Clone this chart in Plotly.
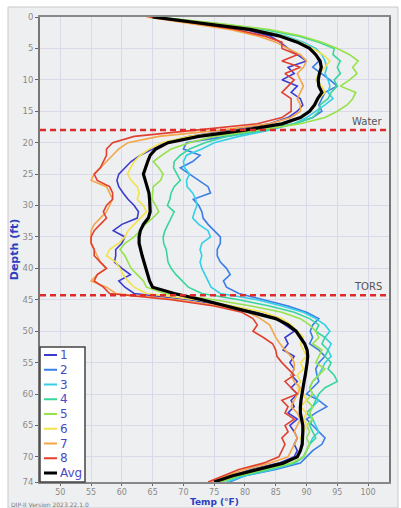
import plotly.graph_objects as go

depth = list(range(0, 75))

s1 = [65, 73, 80, 84, 85.7, 87, 88.5, 90, 87, 88, 86, 88.5, 87.5, 89, 89.4,
      88.5, 87, 84, 78, 71, 67, 65, 63, 61.5, 60.5, 59.5, 59.2, 59.5, 60.2, 61,
      62, 62.7, 62.5, 60, 58.6, 60.5, 60, 59, 59, 58.8, 60, 61.4, 59.5, 60.5, 62,
      71, 77, 82, 85.2, 86.5, 88, 86.5, 87, 86.2, 88, 87.3, 88, 87.5, 88.5, 87.5,
      88.5, 87.5, 88, 87, 88.5, 87.3, 88, 88.5, 88, 88.5, 88, 85.5, 81, 78, 75]
s2 = [65, 74, 81, 86, 89, 90.5, 91.5, 92, 91, 92.5, 93.8, 95, 93, 92.5, 92,
      92.5, 91, 88, 83, 77, 70.5, 70, 72.7, 71.5, 69.5, 71, 72.5, 74, 74.4, 71.6,
      72.5, 73, 73.2, 74, 75, 76, 76, 75.5, 75.5, 76, 77, 77.6, 76.5, 77, 79,
      83, 87, 90, 92, 91, 90.6, 91, 90.5, 92, 93, 92, 91.5, 91.7, 92, 91,
      90, 92, 93.3, 91.5, 90, 91, 92, 93, 92.5, 91, 90, 89, 85, 80, 77.5]
s3 = [65, 74, 81.5, 86.5, 89.5, 91.5, 92.5, 93, 93.3, 93, 93.5, 93.8, 93.5, 94.3, 93,
      91.5, 90, 88, 84, 79, 75, 73, 70.5, 70, 70.2, 71, 70.5, 70.6, 71.5, 72,
      72.2, 71.8, 71.5, 72.5, 74, 74.4, 73, 72.7, 73, 72.7, 73, 73.5, 74, 74.5, 76,
      82, 86, 89.5, 91.5, 93, 93.8, 93, 94, 93.5, 94, 93, 92.5, 92, 91, 90.5,
      91, 92, 91, 90.5, 91, 91.5, 92, 91, 90.5, 90, 89.5, 88, 84.5, 80, 77]
s4 = [65.5, 75, 83, 88.5, 92, 94.5, 94.3, 95.5, 95, 95.5, 94.5, 95, 94, 93.5, 92.2,
      92, 91, 88, 83, 77, 73.5, 71, 69.5, 68.5, 68.4, 69, 69.5, 68.5, 68, 67.8,
      67.4, 68.5, 68, 67.5, 67, 66.7, 66.8, 67.2, 67.4, 67.5, 68, 68.8, 69.8, 70.8, 73,
      79, 84, 88, 90.5, 92, 91.5, 93, 92.5, 93.5, 93, 94, 93.5, 94.5, 95, 93,
      92, 91.5, 91, 90, 91, 90.5, 91, 91.5, 90.5, 90, 89.5, 88, 84, 79.5, 76]
s5 = [65.5, 75.5, 84, 89, 92.5, 95, 97, 98.4, 97.5, 98.2, 97, 95.5, 98, 97.5, 96.6,
      95, 93, 89, 82, 75, 71, 68, 66.5, 65.1, 66, 66.7, 66.3, 65.1, 65, 64.9,
      65.5, 66, 65, 63.8, 63, 62, 60.5, 59.7, 60.5, 61, 61.5, 62.5, 63.5, 64, 67,
      75, 81, 86, 89, 90.5, 91.5, 92, 91, 92.5, 92, 91.5, 93, 92, 91, 90.5,
      91, 90, 91, 90.5, 91, 90, 90.5, 90, 90.5, 90, 89.5, 87.5, 83, 79, 76]
s6 = [65, 74, 81.5, 86, 89, 91, 92.7, 93.8, 93, 92, 91.5, 92.5, 93, 92, 91.5,
      90.5, 89, 86, 79, 71, 66.5, 64.5, 63, 62, 61.4, 60.9, 61.5, 62.5, 62.8, 62.5,
      63.5, 64, 63, 62, 61, 60.5, 59.5, 58, 57.5, 59, 59.7, 60.2, 61, 62, 64,
      72, 78, 83, 86, 87.5, 88.5, 89.5, 89, 89.5, 90, 89, 89.5, 88.5, 89, 88.5,
      89.5, 90, 89, 90, 89.5, 90, 89.5, 89, 89.5, 89, 88.5, 86, 81.5, 78, 75.5]
s7 = [64, 71, 77.5, 82, 85, 87, 89, 90, 89.5, 88.5, 89, 89.5, 89, 88.5, 89,
      89, 87.5, 84, 76, 66, 61, 59.5, 58.5, 57.5, 56.5, 55.5, 55, 57.5, 58, 58.5,
      58, 57.5, 56.5, 55.5, 55, 55, 55, 55.5, 56, 56.5, 57.5, 56, 55, 57.5, 59,
      69, 76, 80.5, 82.5, 84, 84.5, 85, 85.7, 86.5, 87.5, 88, 88, 87.5, 88, 89,
      88.5, 88, 87.5, 88.5, 89, 88.5, 88, 88.5, 88, 87.5, 87, 84, 80, 77, 74.5]
s8 = [64.5, 72, 78.5, 83, 86, 86, 88.5, 86, 89, 86.5, 88, 87, 86, 87.5, 87.5,
      87.5, 86, 82, 72, 62, 58.5, 57.5, 57.5, 57, 56.5, 55.5, 56, 58, 58.5, 58.5,
      57.5, 57, 57.5, 56.5, 55.5, 55, 55, 55.5, 55.5, 56.5, 57.5, 56, 55.5, 57, 58,
      68, 75, 79.5, 81.3, 82, 81.3, 83, 84.5, 85, 85.2, 86, 87, 88, 86.5, 87.5,
      88.5, 86, 87, 86.5, 88, 86.5, 87, 86, 86.5, 86, 85.5, 83, 79, 76.5, 74]
avg = [65, 73.5, 81, 85.5, 88.5, 90.5, 91.5, 92.2, 92.4, 92.1, 91.9, 92, 92.5, 91.8, 91.3,
       90.5, 89, 86, 80, 72.5, 67.5, 65.5, 64.6, 64.2, 63.8, 63.5, 63.8, 64.1, 64.4, 64.5,
       64.6, 64.6, 64.3, 63.5, 63, 62.8, 62.8, 63, 63.3, 63.6, 63.9, 64.1, 64.5, 65, 68.5,
       73, 77, 81.5, 85, 87, 88.3, 89, 89.7, 90.1, 90.2, 90.1, 90, 89.8, 89.6, 89.4,
       89.3, 89.1, 89, 89, 89.2, 89.4, 89.4, 89.3, 89.3, 89, 88.5, 86.2, 82, 78, 75]

series_names = ["1", "2", "3", "4", "5", "6", "7", "8"]
series_values = [s1, s2, s3, s4, s5, s6, s7, s8]
series_colors = ["#3b3bd0", "#3a7ee6", "#35cfe6", "#38d69a", "#95e24a",
                 "#f2e34a", "#f4a64a", "#e2402e"]

water_depth = 18.0
tors_depth = 44.3
marker_labels = ["Water", "TORS"]

x_ticks = list(range(50, 101, 5))
y_ticks = list(range(0, 71, 5)) + [74]

# plot-area geometry in pixels (for paper-coordinate decorations)
PW, PH = 349.0, 465.0

fig = go.Figure()
for name, vals, col in zip(series_names, series_values, series_colors):
    fig.add_trace(go.Scatter(x=vals, y=depth, mode="lines", name=name,
                             showlegend=False,
                             line=dict(color=col, width=1.6)))
fig.add_trace(go.Scatter(x=avg, y=depth, mode="lines", name="Avg",
                         showlegend=False,
                         line=dict(color="black", width=3.2)))

for d, lab in zip([water_depth, tors_depth], marker_labels):
    fig.add_shape(type="line", xref="paper", yref="y", x0=0, x1=1, y0=d, y1=d,
                  line=dict(color="#e02a2a", width=2.5, dash="6px,4px"))
    fig.add_annotation(xref="paper", yref="y", x=0.985, y=d, text=lab,
                       showarrow=False, xanchor="right", yanchor="bottom",
                       yshift=1, font=dict(family="DejaVu Sans", size=10, color="#555"))

# outer frame
fig.add_shape(type="rect", xref="paper", yref="paper", x0=-32 / PW, x1=1 + 9 / PW,
              y0=-26 / PH, y1=1 + 10 / PH, layer="below",
              fillcolor="#eeeff1", line=dict(color="#c9c9c9", width=1))

fig.add_annotation(xref="paper", yref="paper", x=-31 / PW, y=-22 / PH,
                   text="DIP-II Version 2023.22.1.0", showarrow=False,
                   xanchor="left", yanchor="middle",
                   font=dict(family="DejaVu Sans", size=6, color="#777"))

# x-axis title placed as annotation
fig.add_annotation(xref="paper", yref="paper", x=0.5, y=-20 / PH,
                   text="<b>Temp (°F)</b>", showarrow=False,
                   xanchor="center", yanchor="middle", borderpad=0,
                   font=dict(family="DejaVu Sans", size=9, color="#2b3fc0"))

# custom legend box
fig.add_shape(type="rect", xref="paper", yref="paper", x0=0, x1=45 / PW,
              y0=0, y1=135 / PH, fillcolor="white",
              line=dict(color="#444", width=1.5))
leg_names = series_names + ["Avg"]
leg_colors = series_colors + ["black"]
for i, (nm, col) in enumerate(zip(leg_names, leg_colors)):
    yc = (465 - (355 - 17 + i * 14.75)) / PH
    fig.add_shape(type="line", xref="paper", yref="paper",
                  x0=4 / PW, x1=17 / PW, y0=yc, y1=yc,
                  line=dict(color=col, width=3 if nm == "Avg" else 2))
    fig.add_annotation(xref="paper", yref="paper", x=18 / PW, y=yc, text=nm,
                       showarrow=False, xanchor="left", yanchor="middle",
                       font=dict(family="DejaVu Sans", size=12, color="#4a4ac8"))

axis_font = dict(family="DejaVu Sans", size=8.5, color="#8a8a8a")
x_axis_font = dict(family="DejaVu Sans", size=8, color="#8a8a8a")
fig.update_layout(
    width=401, height=508,
    margin=dict(l=40, r=12, t=17, b=26),
    paper_bgcolor="white",
    plot_bgcolor="#f5f5f7",
    showlegend=False,
    xaxis=dict(range=[46.7, 103.4], tickvals=x_ticks, tickfont=x_axis_font,
               automargin=False,
               showgrid=True, gridcolor="#d9d9ea", gridwidth=1,
               showline=True, linecolor="#888", linewidth=1.5, mirror=True,
               ticks="outside", ticklen=2, tickcolor="#666", zeroline=False),
    yaxis=dict(range=[74, 0], tickvals=y_ticks, tickfont=axis_font,
               automargin=False,
               showgrid=True, gridcolor="#d9d9ea", gridwidth=1,
               showline=True, linecolor="#777", linewidth=2, mirror=True,
               ticks="outside", ticklen=3, tickcolor="#666", zeroline=False,
               title=dict(text="<b>Depth (ft)</b>", standoff=2,
                          font=dict(family="DejaVu Sans", size=11, color="#2b3fc0"))),
)

fig.write_html("out.html",
               config={"displayModeBar": False},
               post_script="document.body.style.margin='0px';"
                           "document.body.style.padding='0px';")
